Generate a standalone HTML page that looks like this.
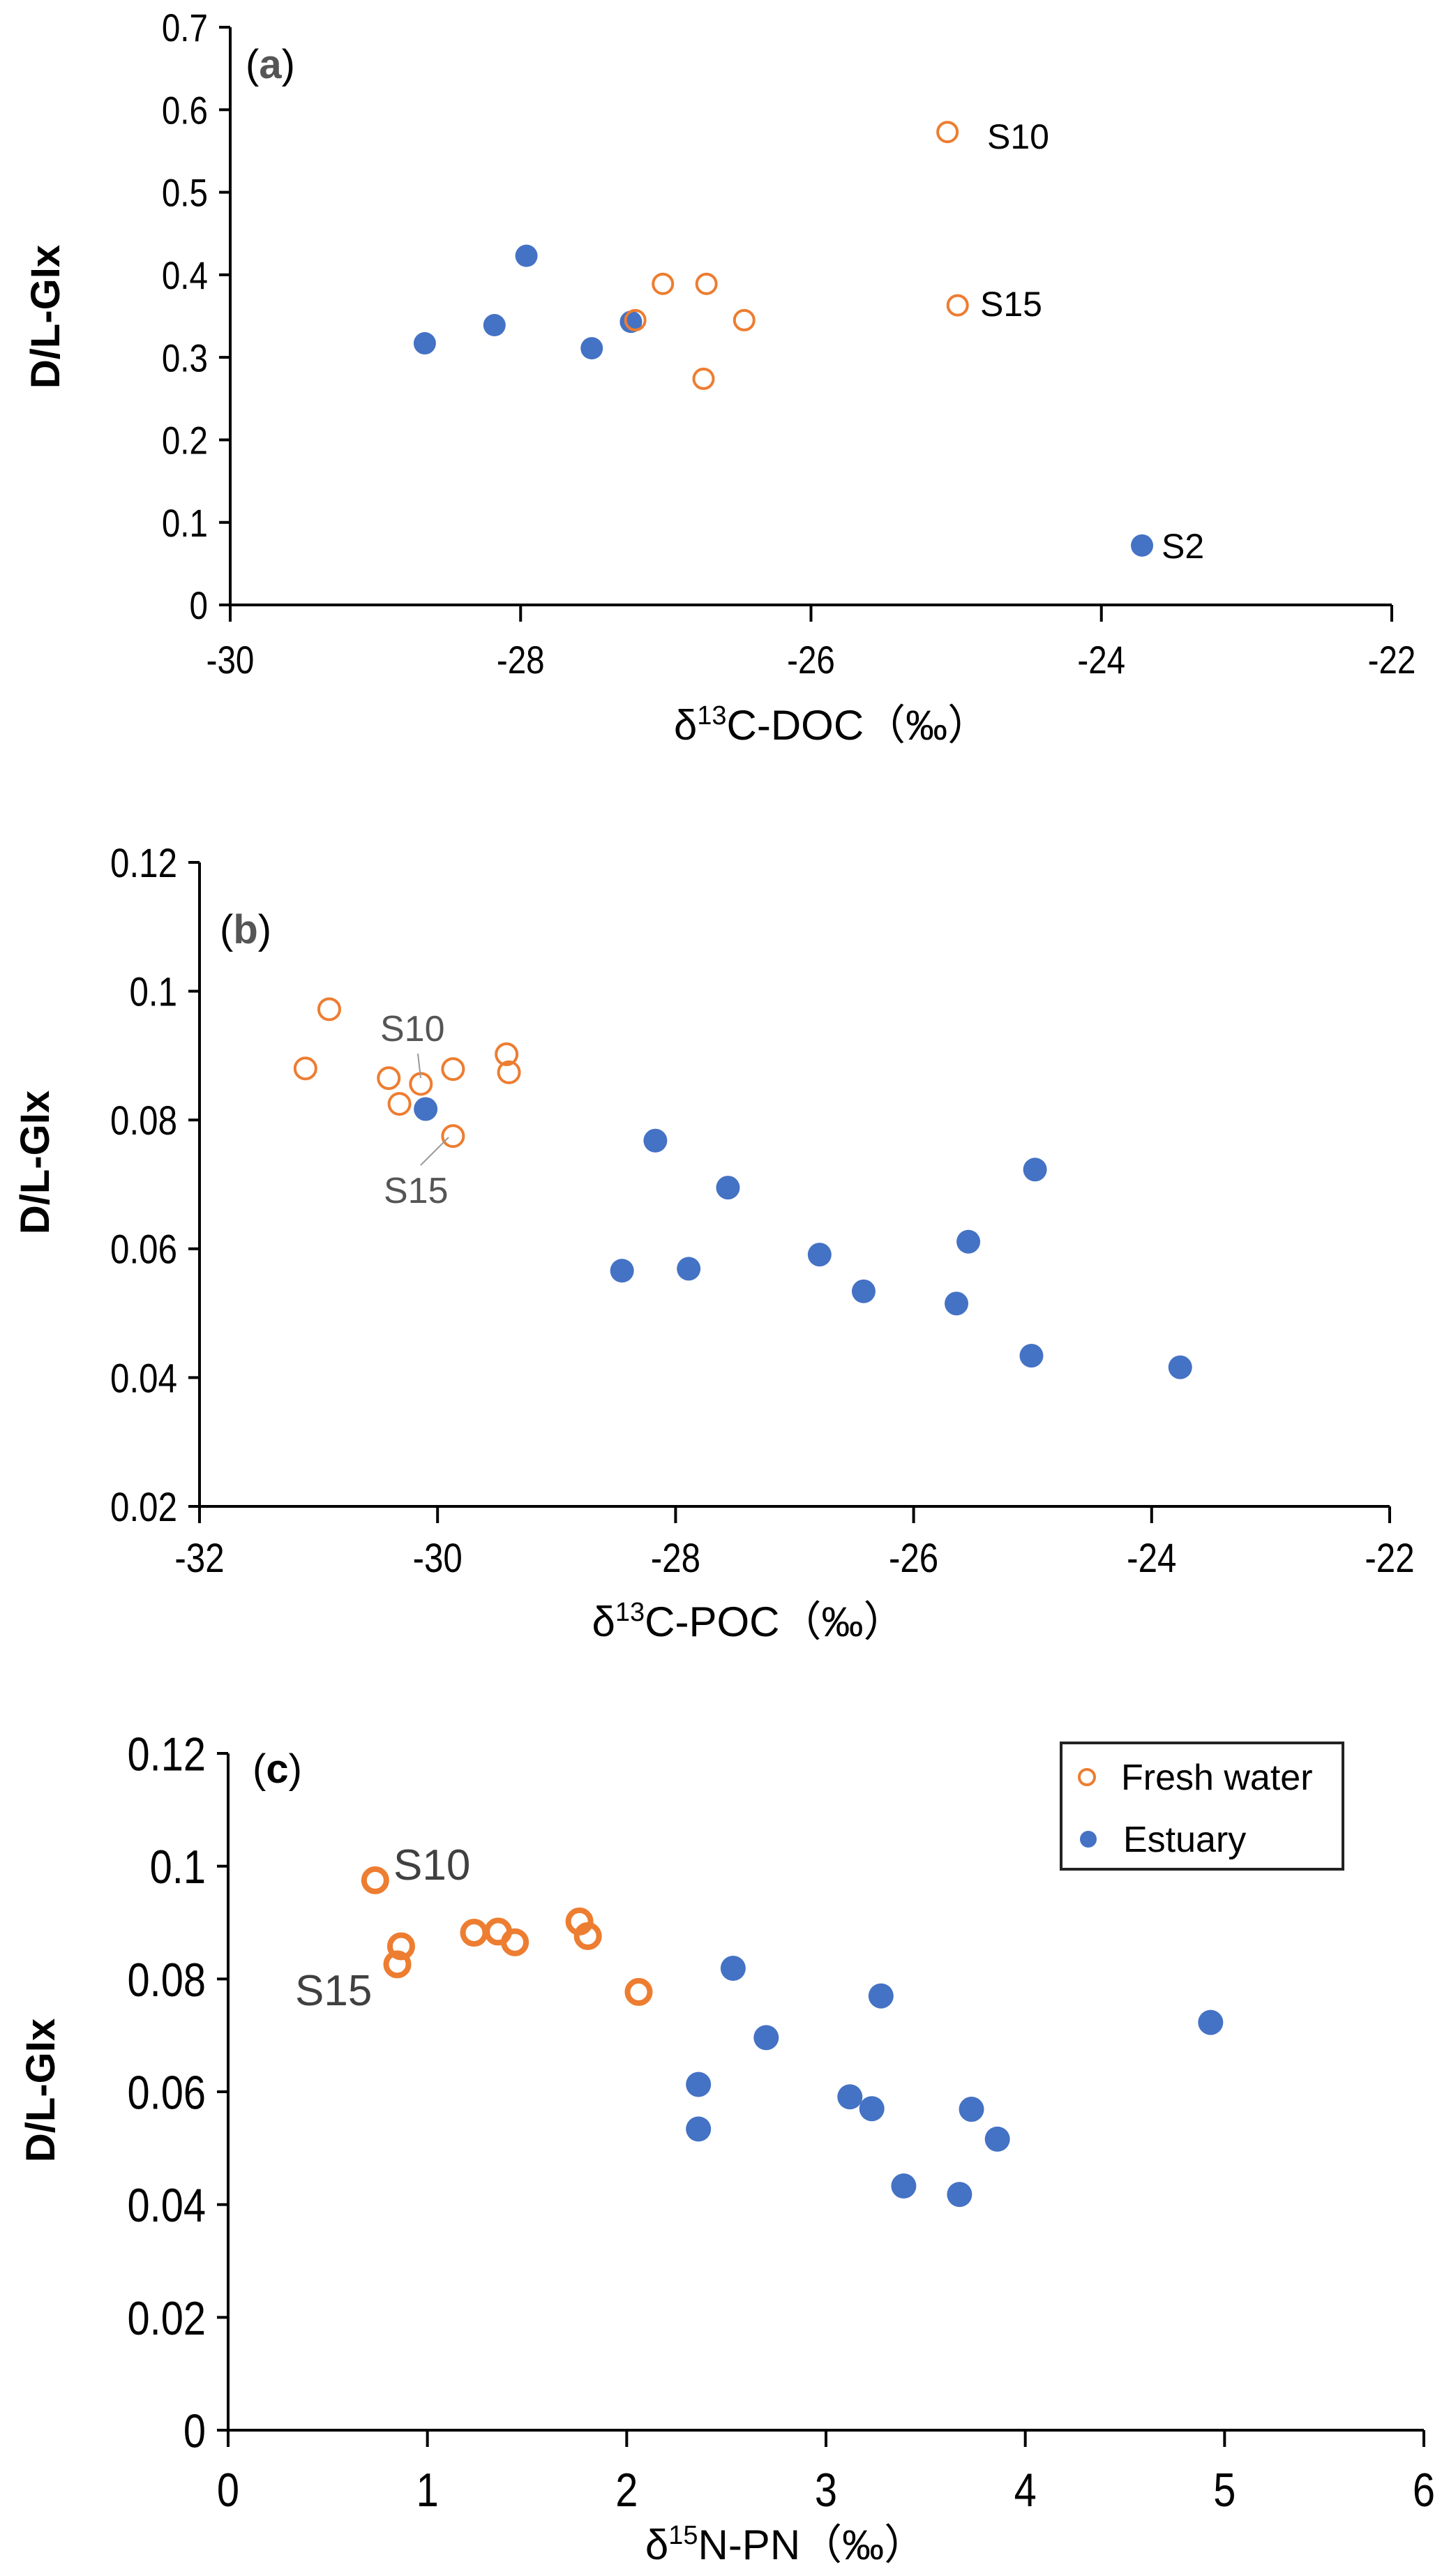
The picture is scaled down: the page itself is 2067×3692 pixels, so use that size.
<!DOCTYPE html>
<html><head><meta charset="utf-8">
<style>
html,body{margin:0;padding:0;background:#fff;}
svg{display:block;}
text{font-family:"Liberation Sans",sans-serif;}
</style></head>
<body>
<svg id="chart" width="2067" height="3692" viewBox="0 0 2067 3692" xmlns="http://www.w3.org/2000/svg">
<g id="pa"></g>
<g id="pb"></g>
<g id="pc"></g>
</svg>
<script>
// ---- Panel (a) data ----
const aFreshX = [-27.21, -27.02, -26.72, -26.46, -26.74, -25.06, -24.99];
const aFreshY = [0.345, 0.389, 0.389, 0.345, 0.274, 0.573, 0.363];
const aEstX = [-28.66, -28.18, -27.96, -27.51, -27.24, -23.72];
const aEstY = [0.317, 0.339, 0.423, 0.311, 0.343, 0.072];
const aXTicks = [-30, -28, -26, -24, -22];
const aYTicks = [0, 0.1, 0.2, 0.3, 0.4, 0.5, 0.6, 0.7];
// ---- Panel (b) data ----
const bFreshX = [-30.91, -31.11, -30.41, -30.14, -30.32, -29.87, -29.42, -29.40, -29.87];
const bFreshY = [0.0972, 0.0880, 0.0865, 0.0856, 0.0825, 0.0879, 0.0902, 0.0874, 0.0775];
const bEstX = [-30.10, -28.17, -27.56, -28.45, -27.89, -26.79, -26.42, -25.64, -25.54, -24.98, -25.01, -23.76];
const bEstY = [0.0817, 0.0768, 0.0695, 0.0566, 0.0569, 0.0591, 0.0534, 0.0515, 0.0611, 0.0723, 0.0434, 0.0416];
const bXTicks = [-32, -30, -28, -26, -24, -22];
const bYTicks = [0.02, 0.04, 0.06, 0.08, 0.1, 0.12];
// ---- Panel (c) data ----
const cFreshX = [0.738, 0.868, 0.849, 1.234, 1.355, 1.439, 1.763, 1.805, 2.06];
const cFreshY = [0.0975, 0.0858, 0.0826, 0.0882, 0.0884, 0.0865, 0.0902, 0.0876, 0.0777];
const cEstX = [2.534, 3.276, 2.70, 4.93, 2.36, 2.36, 3.12, 3.23, 3.73, 3.86, 3.39, 3.67];
const cEstY = [0.0819, 0.0770, 0.0696, 0.0723, 0.0613, 0.0534, 0.0591, 0.0570, 0.0569, 0.0516, 0.0433, 0.0418];
const cXTicks = [0, 1, 2, 3, 4, 5, 6];
const cYTicks = [0, 0.02, 0.04, 0.06, 0.08, 0.1, 0.12];

const NS = "http://www.w3.org/2000/svg";
const ORANGE = "#ED7D31", BLUE = "#4472C4";
function mk(parent, tag, attrs, txt) {
  const e = document.createElementNS(NS, tag);
  for (const k in attrs) e.setAttribute(k, attrs[k]);
  if (txt !== undefined) e.textContent = txt;
  parent.appendChild(e);
  return e;
}
function drawPanel(g, cfg) {
  const sx = v => cfg.x0 + (v - cfg.xmin) / (cfg.xmax - cfg.xmin) * (cfg.x1 - cfg.x0);
  const sy = v => cfg.y0 - (v - cfg.ymin) / (cfg.ymax - cfg.ymin) * (cfg.y0 - cfg.y1);
  const ya = mk(g, "line", {x1: cfg.x0, y1: cfg.y0, x2: cfg.x0, y2: cfg.y1, stroke: "#000", "stroke-width": 4});
  
  
  const xa = mk(g, "line", {x1: cfg.x0, y1: cfg.y0, x2: cfg.x1, y2: cfg.y0, stroke: "#000", "stroke-width": 4});
  
  
  cfg.yTicks.forEach(v => {
    const y = sy(v);
    const t = mk(g, "line", {x1: cfg.x0 - 16, y1: y, x2: cfg.x0, y2: y, stroke: "#000", "stroke-width": 4});
    
    
    const l = mk(g, "text", {x: cfg.x0 - 32, y: y + cfg.tfs * 0.36, "text-anchor": "end", "font-size": cfg.tfs, fill: "#000", transform: `translate(${cfg.x0 - 32},0) scale(0.85,1) translate(${-(cfg.x0 - 32)},0)`}, String(v));
    
    
  });
  cfg.xTicks.forEach(v => {
    const x = sx(v);
    const t = mk(g, "line", {x1: x, y1: cfg.y0, x2: x, y2: cfg.y0 + 24, stroke: "#000", "stroke-width": 4});
    
    
    const l = mk(g, "text", {x: x, y: cfg.xly, "text-anchor": "middle", "font-size": cfg.tfs, fill: "#000", transform: `translate(${x},0) scale(0.85,1) translate(${-x},0)`}, String(v));
    
    
  });
  cfg.estX.forEach((v, i) => {
    const c = mk(g, "circle", {cx: sx(v), cy: sy(cfg.estY[i]), r: cfg.r + 2, fill: BLUE});
    
    
  });
  cfg.freshX.forEach((v, i) => {
    const c = mk(g, "circle", {cx: sx(v), cy: sy(cfg.freshY[i]), r: cfg.r, fill: "none", stroke: ORANGE, "stroke-width": cfg.sw});
    
    
  });
  const yt = mk(g, "text", {x: 0, y: 0, "font-size": 58, "font-weight": "bold", "text-anchor": "middle", fill: "#000", transform: `translate(${cfg.ytx},${cfg.yty}) rotate(-90)`}, "D/L-GIx");
  
  
  const xt = mk(g, "text", {x: cfg.xtx, y: cfg.xty, "font-size": 60, "text-anchor": "middle", fill: "#000"});
  
  
  mk(xt, "tspan", {}, "δ");
  mk(xt, "tspan", {"font-size": 38, dy: -22}, cfg.sup);
  mk(xt, "tspan", {dy: 22}, cfg.xlab + "（‰）");
  const pl = mk(g, "text", {x: cfg.plx, y: cfg.ply, "font-size": 58, fill: "#000"});
  
  
  mk(pl, "tspan", {}, "(");
  mk(pl, "tspan", {"font-weight": "bold", fill: cfg.plc}, cfg.pl);
  mk(pl, "tspan", {}, ")");
  return {sx, sy};
}
function label(g, x, y, txt, fs, col, name) {
  const t = mk(g, "text", {x: x, y: y, "font-size": fs, fill: col}, txt);
  
  
  return t;
}
// Panel a
const ga = document.getElementById("pa");
drawPanel(ga, {x0: 330, x1: 1995, y0: 867, y1: 39, xmin: -30, xmax: -22, ymin: 0, ymax: 0.7,
  xTicks: aXTicks, yTicks: aYTicks, freshX: aFreshX, freshY: aFreshY, estX: aEstX, estY: aEstY,
  r: 14, sw: 4, tfs: 56, xly: 965, ytx: 85, yty: 454, xtx: 1192, xty: 1060, sup: "13", xlab: "C-DOC",
  plx: 352, ply: 112, pl: "a", plc: "#555"});
label(ga, 1415, 213, "S10", 50, "#000", "s10-label");
label(ga, 1405, 453, "S15", 50, "#000", "s15-label");
label(ga, 1665, 800, "S2", 50, "#000", "s2-label");
// Panel b
const gb = document.getElementById("pb");
drawPanel(gb, {x0: 286, x1: 1992, y0: 2159, y1: 1236, xmin: -32, xmax: -22, ymin: 0.02, ymax: 0.12,
  xTicks: bXTicks, yTicks: bYTicks, freshX: bFreshX, freshY: bFreshY, estX: bEstX, estY: bEstY,
  r: 15, sw: 4, tfs: 58, xly: 2253, ytx: 70, yty: 1666, xtx: 1073, xty: 2345, sup: "13", xlab: "C-POC",
  plx: 315, ply: 1352, pl: "b", plc: "#555"});
mk(gb, "line", {x1: 599, y1: 1510, x2: 603, y2: 1545, stroke: "#999", "stroke-width": 2});
mk(gb, "line", {x1: 603, y1: 1670, x2: 643, y2: 1630, stroke: "#999", "stroke-width": 2});
label(gb, 545, 1492, "S10", 52, "#555", "s10-label");
label(gb, 550, 1724, "S15", 52, "#555", "s15-label");
// Panel c
const gc = document.getElementById("pc");
drawPanel(gc, {x0: 327, x1: 2041, y0: 3483, y1: 2513, xmin: 0, xmax: 6, ymin: 0, ymax: 0.12,
  xTicks: cXTicks, yTicks: cYTicks, freshX: cFreshX, freshY: cFreshY, estX: cEstX, estY: cEstY,
  r: 16, sw: 8, tfs: 68, xly: 3592, ytx: 78, yty: 2996, xtx: 1126, xty: 3668, sup: "15", xlab: "N-PN",
  plx: 362, ply: 2555, pl: "c", plc: "#000"});
label(gc, 564, 2694, "S10", 62, "#404040", "s10-label");
label(gc, 423, 2874, "S15", 62, "#404040", "s15-label");
// Legend
const lg = mk(gc, "g", {});


mk(lg, "rect", {x: 1521, y: 2498, width: 404, height: 181, fill: "#fff", stroke: "#222", "stroke-width": 4});
const l1 = mk(lg, "circle", {cx: 1558, cy: 2547, r: 11, fill: "none", stroke: ORANGE, "stroke-width": 4});


label(lg, 1607, 2565, "Fresh water", 52, "#000", "legend-entry-fresh-water");
const l2 = mk(lg, "circle", {cx: 1560, cy: 2636, r: 12, fill: BLUE});


label(lg, 1610, 2654, "Estuary", 52, "#000", "legend-entry-estuary");
</script>
</body></html>
